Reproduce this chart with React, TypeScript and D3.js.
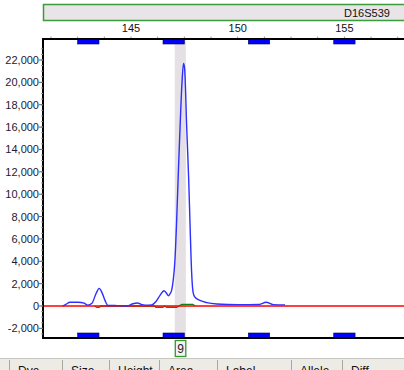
import { useEffect } from 'react';
import { scaleLinear, line, curveMonotoneX, range } from 'd3';

// marker + bins
const markerName = 'D16S539';
const binCenters = [143, 147, 151, 155];
const xTickLabels = [145, 150, 155];
const yTickValues = [-2000, 0, 2000, 4000, 6000, 8000, 10000, 12000, 14000, 16000, 18000, 20000, 22000];

// called allele
const alleleLabel = '9';
const alleleSize = 147.31;
const highlightRange = [147.05, 147.57];

// blue dye trace (size bp, RFU)
const blueSize = [141.8, 141.95, 142.14, 142.52, 142.8, 142.98, 143.17, 143.36, 143.51, 143.64, 143.78, 143.92, 144.25, 144.56, 144.7, 144.87, 145.09, 145.3, 145.47, 145.66, 145.97, 146.17, 146.36, 146.55, 146.64, 146.75, 146.83, 146.91, 146.98, 147.06, 147.14, 147.22, 147.3, 147.39, 147.46, 147.51, 147.61, 147.7, 147.77, 147.82, 147.88, 147.92, 148.0, 148.23, 148.55, 149.02, 150.03, 151.01, 151.33, 151.67, 152.22];
const blueRfu = [0, 150, 330, 340, 250, 80, 250, 1100, 1580, 1200, 500, 50, 40, 30, 0, 20, 200, 270, 150, 80, 100, 400, 950, 1370, 1200, 920, 1100, 1450, 2330, 4110, 7690, 12000, 16040, 20000, 21700, 21300, 16000, 11500, 7090, 4000, 1730, 1130, 780, 500, 300, 180, 120, 140, 330, 120, 100];

// green dye trace, near baseline
const greenSize = [143.3, 143.4, 143.5, 143.6, 146.1, 146.17, 146.49, 146.58, 146.67, 147.14, 147.25, 147.38, 147.9, 148.0];
const greenRfu = [0, -130, -130, 0, 0, -110, -110, 0, -110, -110, 0, 150, 150, 0];

// table header columns
const tableCols = ['', 'Dye', 'Size', 'Height', 'Area', 'Label', 'Allele', 'Diff'];
const tableColEdges = [0, 9, 62, 109, 159, 217, 291, 342];

const W = 404;
const H = 370;
const left = 43;
const top = 39;
const bottom = 338;

export default function App() {
  useEffect(() => {
    document.body.style.margin = '0';
  }, []);

  const x = scaleLinear().domain([145, 150]).range([131, 237.7]);
  const y = scaleLinear().domain([-2862, 23878]).range([bottom, top]);
  const binW = x(1) - x(0);

  const blueLine = line<number>()
    .x((d, i) => x(blueSize[i]))
    .y((d) => y(d))
    .curve(curveMonotoneX);
  const greenLine = line<number>()
    .x((d, i) => x(greenSize[i]))
    .y((d) => y(d));

  const minorX = range(141.25, 158.5, 1.25);
  const minorY = range(-2500, 23500, 500);
  const font = '"Liberation Sans", Arial, sans-serif';

  return (
    <svg width={W} height={H} style={{ display: 'block', fontFamily: font }}>
      <rect width={W} height={H} fill="#fff" />

      {/* marker header */}
      <rect x={left + 0.5} y={4.5} width={W} height={16} fill="#e8e4e8" stroke="#3c9c3c" strokeWidth={1.5} />
      <text x={367} y={16.5} fontSize={11} textAnchor="middle" fill="#111">{markerName}</text>

      {/* size labels */}
      {xTickLabels.map((t) => (
        <text key={t} x={x(t)} y={32} fontSize={11} textAnchor="middle" fill="#111">{t}</text>
      ))}
      {minorX.map((t) => (
        <line key={t} x1={x(t)} x2={x(t)} y1={top} y2={top - 2.5} stroke="#999" />
      ))}

      {/* allele highlight */}
      <rect x={x(highlightRange[0])} y={top} width={x(highlightRange[1]) - x(highlightRange[0])} height={bottom - top} fill="#e4e0e4" />

      {/* bins */}
      {binCenters.map((b) => (
        <g key={b}>
          <rect x={x(b) - binW / 2} y={top} width={binW} height={5} fill="#0000ff" stroke="#000060" strokeWidth={0.6} />
          <rect x={x(b) - binW / 2} y={bottom - 5} width={binW} height={5} fill="#0000ff" stroke="#000060" strokeWidth={0.6} />
        </g>
      ))}

      {/* traces */}
      <path d={greenLine(greenRfu) || ''} fill="none" stroke="#108010" strokeWidth={1.3} />
      <line x1={left} x2={W} y1={y(0)} y2={y(0)} stroke="#ff0000" strokeWidth={1.4} />
      <path d={blueLine(blueRfu) || ''} fill="none" stroke="#2f2fff" strokeWidth={1.4} />

      {/* frame */}
      <line x1={left} x2={W} y1={top} y2={top} stroke="#000" strokeWidth={2} />
      <line x1={left} x2={W} y1={bottom} y2={bottom} stroke="#000" strokeWidth={2} />
      <line x1={left} x2={left} y1={top - 1} y2={bottom + 1} stroke="#000" strokeWidth={2} />

      {/* y axis */}
      {minorY.map((v) => (
        <line key={v} x1={left - 2} x2={left} y1={y(v)} y2={y(v)} stroke="#999" />
      ))}
      {yTickValues.map((v) => (
        <g key={v}>
          <line x1={left - 4} x2={left} y1={y(v)} y2={y(v)} stroke="#666" />
          <text x={39} y={y(v) + 4} fontSize={11} textAnchor="end" fill="#221a33">
            {v.toLocaleString('en-US')}
          </text>
        </g>
      ))}

      {/* allele label */}
      <rect x={x(alleleSize) - 5} y={340.5} width={10.5} height={16} fill="#f2f2f2" stroke="#2e9a2e" strokeWidth={1.3} />
      <text x={x(alleleSize) + 0.3} y={353} fontSize={12} textAnchor="middle" fill="#222">{alleleLabel}</text>

      {/* table header strip */}
      <rect x={0} y={358} width={W} height={14} fill="#ecebe6" />
      <line x1={0} x2={W} y1={358.5} y2={358.5} stroke="#c8c6c0" />
      {tableColEdges.map((e, i) => (
        <g key={i}>
          {i > 0 && <line x1={e + 0.5} x2={e + 0.5} y1={360} y2={H} stroke="#aca899" />}
          <text x={e + 9} y={375} fontSize={12} fill="#111">{tableCols[i]}</text>
        </g>
      ))}
    </svg>
  );
}
